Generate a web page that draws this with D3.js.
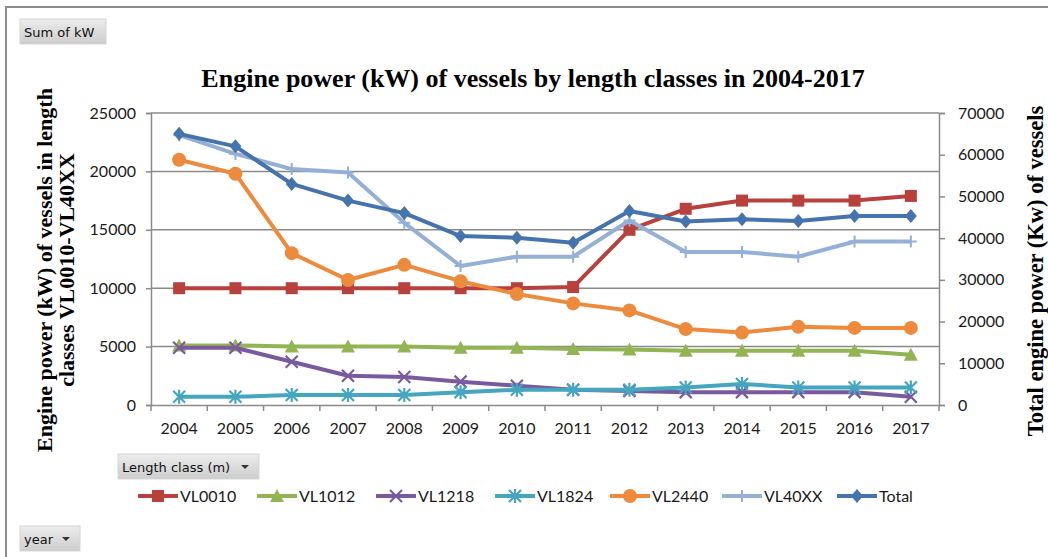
<!DOCTYPE html>
<html>
<head>
<meta charset="utf-8">
<script src="https://cdn.jsdelivr.net/npm/d3@7"></script>
<style>
  body { margin: 0; background: #fff; }
  svg { display: block; }
</style>
</head>
<body>
<svg width="1048" height="557"></svg>
<script>
var years = ["2004","2005","2006","2007","2008","2009","2010","2011","2012","2013","2014","2015","2016","2017"];

var vl0010 = [10000,10000,10000,10000,10000,10000,10000,10100,15000,16800,17500,17500,17500,17900];
var vl1012 = [5100,5100,5000,5000,5000,4900,4900,4800,4750,4650,4650,4650,4650,4300];
var vl1218 = [4900,4900,3700,2500,2400,2000,1650,1300,1200,1100,1100,1100,1100,700];
var vl1824 = [700,700,850,850,850,1100,1300,1300,1300,1500,1800,1500,1500,1500];
var vl2440 = [21000,19800,13000,10700,12000,10600,9500,8700,8100,6500,6200,6700,6600,6600];
var vl40xx = [23100,21500,20200,19900,15600,11900,12700,12700,15800,13100,13100,12700,14000,14000];
var total  = [65000,62000,53000,49000,46000,40500,40100,38900,46500,44000,44500,44100,45300,45300];

var leftTicks = [0,5000,10000,15000,20000,25000];
var rightTicks = [0,10000,20000,30000,40000,50000,60000,70000];

var seriesNames = ["VL0010","VL1012","VL1218","VL1824","VL2440","VL40XX","Total"];
var seriesColors = ["#B8403D","#93B453","#7A5A9E","#45A6BF","#EE8A3C","#94B0D6","#4573AD"];
var seriesMarkers = ["square","triangle","x","star","circle","plus","diamond"];
var seriesData = [vl0010, vl1012, vl1218, vl1824, vl2440, vl40xx, total];

var svg = d3.select("svg");
var plotLeft = 151, plotRight = 939, plotTop = 113, plotBottom = 405;

var x = d3.scaleBand().domain(years).range([plotLeft, plotRight]);
var yL = d3.scaleLinear().domain([0, 25000]).range([plotBottom, plotTop]);
var yR = d3.scaleLinear().domain([0, 70000]).range([plotBottom, plotTop]);

// outer frame
svg.append("path")
    .attr("d", "M6,557 L6,7 L1048,7")
    .attr("fill", "none").attr("stroke", "#8c8c8c").attr("stroke-width", 2);

// gridlines
svg.append("g").selectAll("line")
  .data(leftTicks.slice(1))
  .enter().append("line")
    .attr("x1", plotLeft).attr("x2", plotRight)
    .attr("y1", function(d) { return yL(d); })
    .attr("y2", function(d) { return yL(d); })
    .attr("stroke", "#8a8a8a").attr("stroke-width", 1.5);

var tickFont = "Lato, 'Liberation Sans', sans-serif";

// left axis
var gl = svg.append("g").attr("transform", "translate(" + plotLeft + ",0)")
  .call(d3.axisLeft(yL).tickValues(leftTicks).tickSize(5).tickPadding(10).tickFormat(d3.format("d")));
// right axis
var gr = svg.append("g").attr("transform", "translate(" + plotRight + ",0)")
  .call(d3.axisRight(yR).tickValues(rightTicks).tickSize(6).tickPadding(13).tickFormat(d3.format("d")));
// bottom axis
var gb = svg.append("g").attr("transform", "translate(0," + plotBottom + ")")
  .call(d3.axisBottom(x).tickSize(0).tickPadding(18));
// category boundary ticks
svg.append("g").selectAll("line")
  .data(d3.range(years.length + 1))
  .enter().append("line")
    .attr("x1", function(i) { return plotLeft + i * x.step(); })
    .attr("x2", function(i) { return plotLeft + i * x.step(); })
    .attr("y1", plotBottom).attr("y2", plotBottom + 6)
    .attr("stroke", "#8a8a8a").attr("stroke-width", 1.5);

[gl, gr, gb].forEach(function(g) {
  g.select(".domain").attr("stroke", "#8a8a8a").attr("stroke-width", 1.5);
  g.selectAll(".tick line").attr("stroke", "#8a8a8a").attr("stroke-width", 1.5);
  g.selectAll("text").attr("fill", "#1a1a1a").style("font-family", tickFont).style("font-size", "16px");
});

// marker drawing
function drawMarker(sel, type, color, s) {
  var h = s / 2;
  if (type === "square") {
    sel.append("rect").attr("x", -h).attr("y", -h).attr("width", s).attr("height", s).attr("fill", color);
  } else if (type === "triangle") {
    sel.append("path").attr("d", "M0," + (-h - 1) + " L" + (h + 1) + "," + (h) + " L" + (-h - 1) + "," + h + " Z").attr("fill", color);
  } else if (type === "circle") {
    sel.append("circle").attr("r", h + 1).attr("fill", color);
  } else if (type === "diamond") {
    sel.append("path").attr("d", "M0," + (-h - 1) + " L" + (h) + ",0 L0," + (h + 1) + " L" + (-h) + ",0 Z").attr("fill", color);
  } else if (type === "x") {
    sel.append("path").attr("d", "M" + (-h) + "," + (-h) + " L" + h + "," + h + " M" + (-h) + "," + h + " L" + h + "," + (-h))
      .attr("stroke", color).attr("stroke-width", 2.2).attr("fill", "none");
  } else if (type === "star") {
    sel.append("path").attr("d", "M" + (-h) + "," + (-h) + " L" + h + "," + h + " M" + (-h) + "," + h + " L" + h + "," + (-h) + " M0," + (-h - 1) + " L0," + (h + 1))
      .attr("stroke", color).attr("stroke-width", 2.2).attr("fill", "none");
  } else if (type === "plus") {
    sel.append("path").attr("d", "M0," + (-h) + " L0," + h + " M" + (-h) + ",0 L" + h + ",0")
      .attr("stroke", color).attr("stroke-width", 2).attr("fill", "none");
  }
}

// series lines
seriesData.forEach(function(vals, i) {
  var ys = seriesNames[i] === "Total" ? yR : yL;
  var line = d3.line()
    .x(function(d, j) { return x(years[j]) + x.bandwidth() / 2; })
    .y(function(d) { return ys(d); });
  var g = svg.append("g");
  g.append("path")
    .attr("d", line(vals))
    .attr("fill", "none")
    .attr("stroke", seriesColors[i])
    .attr("stroke-width", 4)
    .attr("stroke-linejoin", "round");
  g.selectAll(".m")
    .data(vals)
    .enter().append("g")
      .attr("transform", function(d, j) { return "translate(" + (x(years[j]) + x.bandwidth() / 2) + "," + ys(d) + ")"; })
      .each(function() { drawMarker(d3.select(this), seriesMarkers[i], seriesColors[i], 12); });
});

// title
svg.append("text")
    .attr("x", 533).attr("y", 87)
    .attr("text-anchor", "middle")
    .style("font-family", "'Liberation Serif', 'Times New Roman', serif")
    .style("font-weight", "bold").style("font-size", "26px")
    .text("Engine power (kW)  of vessels by length classes in 2004-2017");

// left axis title
var lt = svg.append("text")
    .attr("transform", "translate(52,270) rotate(-90)")
    .attr("text-anchor", "middle")
    .style("font-family", "'Liberation Serif', 'Times New Roman', serif")
    .style("font-weight", "bold").style("font-size", "22px");
lt.append("tspan").attr("x", 0).attr("y", 0).text("Engine power (kW)  of vessels in length");
lt.append("tspan").attr("x", 0).attr("y", 22).text("classes VL0010-VL40XX");

// right axis title
svg.append("text")
    .attr("transform", "translate(1043,271) rotate(-90)")
    .attr("text-anchor", "middle")
    .style("font-family", "'Liberation Serif', 'Times New Roman', serif")
    .style("font-weight", "bold").style("font-size", "22.5px")
    .text("Total engine power (Kw) of vessels");

// pivot buttons
var grad = svg.append("defs").append("linearGradient")
    .attr("id", "btn").attr("x1", 0).attr("y1", 0).attr("x2", 0).attr("y2", 1);
grad.append("stop").attr("offset", "0%").attr("stop-color", "#ececec");
grad.append("stop").attr("offset", "100%").attr("stop-color", "#cdcdcd");

function button(bx, by, w, label, arrow) {
  var g = svg.append("g").attr("transform", "translate(" + bx + "," + by + ")");
  g.append("rect").attr("width", w).attr("height", 25).attr("fill", "url(#btn)")
    .attr("stroke", "#d6d6d6").attr("stroke-width", 1);
  g.append("text").attr("x", 4).attr("y", 17.5)
    .style("font-family", "'DejaVu Sans', sans-serif").style("font-size", "13px")
    .attr("fill", "#111").text(label);
  if (arrow) {
    g.append("path").attr("d", "M" + (w - 18) + ",11 L" + (w - 10) + ",11 L" + (w - 14) + ",15 Z").attr("fill", "#333");
  }
}
button(20, 19, 86, "Sum of kW", false);
button(118, 454, 141, "Length class (m)", true);
button(20, 526, 60, "year", true);

// legend
var legendX = [138, 257, 376, 495, 610, 722, 837];
seriesNames.forEach(function(name, i) {
  var g = svg.append("g").attr("transform", "translate(" + legendX[i] + ",496)");
  g.append("line").attr("x1", 0).attr("x2", 40).attr("y1", 0).attr("y2", 0)
    .attr("stroke", seriesColors[i]).attr("stroke-width", 4);
  var m = g.append("g").attr("transform", "translate(20,0)");
  drawMarker(m, seriesMarkers[i], seriesColors[i], 12);
  g.append("text").attr("x", 42).attr("y", 6)
    .style("font-family", tickFont).style("font-size", "16px")
    .attr("fill", "#1a1a1a").text(name);
});
</script>
</body>
</html>
